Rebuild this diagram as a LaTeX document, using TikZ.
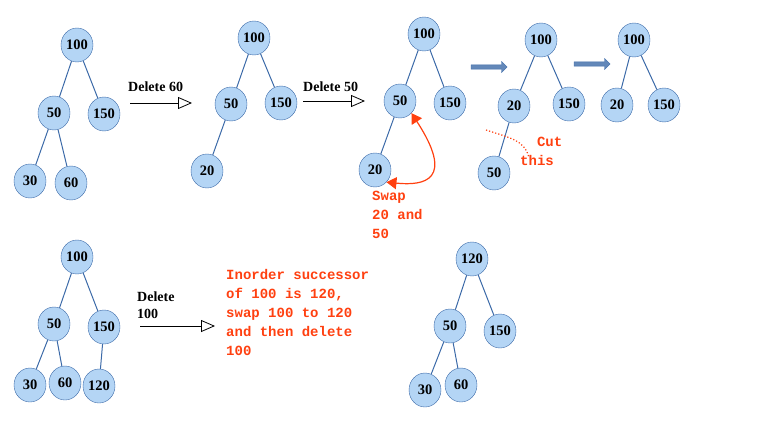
\documentclass[tikz,border=0pt]{standalone}
\usepackage{fontspec}
\setmainfont{Liberation Serif}
\newfontfamily\monof{Liberation Mono}
\usetikzlibrary{arrows.meta,shapes.geometric,shapes.arrows}
\definecolor{nfill}{HTML}{B4D5F5}
\definecolor{nline}{HTML}{3C6AA8}
\definecolor{rd}{HTML}{FF4010}
\begin{document}
\begin{tikzpicture}[x=1pt,y=-1pt,
  n/.style={ellipse,draw=nline,fill=nfill,minimum width=32pt,minimum height=34pt,inner sep=0pt,font=\bfseries\fontsize{14.5}{14}\selectfont},
  e/.style={draw=nline,line width=1pt},
  lab/.style={font=\bfseries\fontsize{14}{17}\selectfont,anchor=west,align=left,inner sep=0pt},
  rt/.style={text=rd,font=\monof\bfseries\fontsize{14}{19}\selectfont,anchor=north west,align=left,inner sep=0pt},
  oa/.style={-{Triangle[open,length=14pt,width=12pt]},line width=0.8pt},
  ba/.style={single arrow,fill=nline!80,draw=nline,minimum height=36pt,minimum width=11pt,single arrow head extend=2pt,inner sep=1pt}]
\useasboundingbox (0,0) rectangle (762,436);
% tree 1
\node[n] (a1) at (77,45) {100};
\node[n] (a2) at (54,113) {50};
\node[n] (a3) at (104,114) {150};
\node[n] (a4) at (30,181) {30};
\node[n] (a5) at (71,183) {60};
\draw[e] (a1)--(a2) (a1)--(a3) (a2)--(a4) (a2)--(a5);
\node[lab] (l1) at (128,87) {Delete 60};
\coordinate (s1) at (130,103); \coordinate (t1) at (192,103);
\draw[oa] (s1)--(t1);
% tree 2
\node[n] (b1) at (254,38) {100};
\node[n] (b2) at (231,104) {50};
\node[n] (b3) at (281,103) {150};
\node[n] (b4) at (207,171) {20};
\draw[e] (b1)--(b2) (b1)--(b3) (b2)--(b4);
\node[lab] (l2) at (303,87) {Delete 50};
\coordinate (s2) at (303,101); \coordinate (t2) at (365,101);
\draw[oa] (s2)--(t2);
% tree 3
\node[n] (c1) at (424,34) {100};
\node[n] (c2) at (400,101) {50};
\node[n] (c3) at (450,103) {150};
\node[n] (c4) at (375,170) {20};
\draw[e] (c1)--(c2) (c1)--(c3) (c2)--(c4);
\node[rt] (sw) at (372,191) {Swap\\20 and\\50};
\draw[rd,line width=1.2pt,{Triangle[length=10pt,width=12pt]}-{Triangle[length=10pt,width=12pt]}] (c4.south east) .. controls (425,186) and (455,180) .. (c2.south east);
\node[ba] (ar1) at (488,67) {};
% tree 4
\node[n] (d1) at (541,40) {100};
\node[n] (d2) at (514,106) {20};
\node[n] (d3) at (569,104) {150};
\node[n] (d4) at (494,173) {50};
\draw[e] (d1)--(d2) (d1)--(d3) (d2)--(d4);
\node[rt] (cut) at (520,137) {\ \ Cut\\this};
\coordinate (k1) at (486,130); \coordinate (k2) at (529,158);
\draw[rd,line width=1.2pt,dotted] (k1) .. controls (510,138) and (525,140) .. (k2);
\node[ba] (ar2) at (591,64) {};
% tree 5
\node[n] (f1) at (634,40) {100};
\node[n] (f2) at (617,105) {20};
\node[n] (f3) at (664,105) {150};
\draw[e] (f1)--(f2) (f1)--(f3);
% tree 6
\node[n] (g1) at (77,257) {100};
\node[n] (g2) at (54,324) {50};
\node[n] (g3) at (104,327) {150};
\node[n] (g4) at (30,385) {30};
\node[n] (g5) at (65,383) {60};
\node[n] (g6) at (99,386) {120};
\draw[e] (g1)--(g2) (g1)--(g3) (g2)--(g4) (g2)--(g5) (g3)--(g6);
\node[lab] (l3) at (137,305) {Delete\\100};
\coordinate (s3) at (140,326); \coordinate (t3) at (215,326);
\draw[oa] (s3)--(t3);
\node[rt] (txt) at (226,269) {Inorder successor\\of 100 is 120,\\swap 100 to 120\\and then delete\\100};
% tree 7
\node[n] (h1) at (472,259) {120};
\node[n] (h2) at (450,326) {50};
\node[n] (h3) at (500,331) {150};
\node[n] (h4) at (425,390) {30};
\node[n] (h5) at (461,385) {60};
\draw[e] (h1)--(h2) (h1)--(h3) (h2)--(h4) (h2)--(h5);
\end{tikzpicture}
\end{document}
